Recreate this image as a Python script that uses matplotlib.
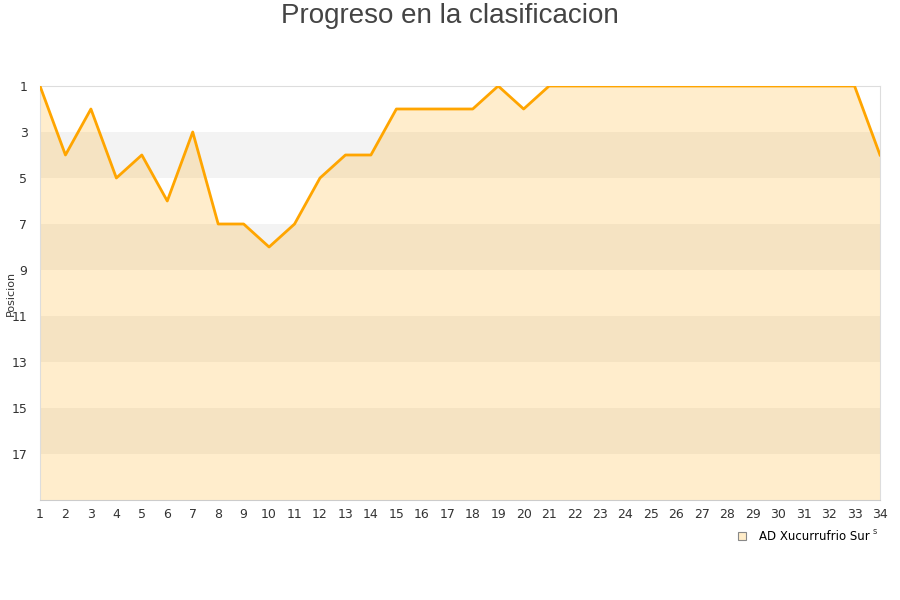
import matplotlib
matplotlib.use("Agg")
import matplotlib.pyplot as plt
from matplotlib.lines import Line2D

jornadas = list(range(1, 35))
posicion = [1, 4, 2, 5, 4, 6, 3, 7, 7, 8, 7, 5, 4, 4, 2, 2, 2, 2, 1, 2,
            1, 1, 1, 1, 1, 1, 1, 1, 1, 1, 1, 1, 1, 4]
yticks = [1, 3, 5, 7, 9, 11, 13, 15, 17]
team = "AD Xucurrufrio Sur"
title = "Progreso en la clasificacion"

fig = plt.figure(figsize=(9, 6), dpi=100)
ax = fig.add_axes([40/900, 1-500/600, 840/900, 414/600])

ymin, ymax = 1, 19
for b in range(3, 19, 4):
    ax.axhspan(b, b + 2, color="#f3f3f3", lw=0, zorder=0)

ax.fill_between(jornadas, posicion, ymax, color="#FFA500", alpha=0.2, lw=0, zorder=1)
ax.plot(jornadas, posicion, color="#FFA500", lw=2, zorder=3)

ax.set_xlim(1, 34)
ax.set_ylim(ymax, ymin)
ax.set_xticks(jornadas)
ax.set_yticks(yticks)
ax.tick_params(axis="both", length=0, labelsize=9, colors="#333333")
ax.tick_params(axis="x", pad=6)
ax.tick_params(axis="y", pad=9)
for s in ["top", "right", "left"]:
    ax.spines[s].set_color("#dddddd")
ax.spines["bottom"].set_color("#cccccc")
fig.text(11/900, 1-293/600, "Posicion", rotation=90, fontsize=8, color="#333333",
         ha="center", va="center")

fig.text(0.5, 1-16/600, title, ha="center", va="center", fontsize=20,
         color="#444444", family="Liberation Sans")

handle = Line2D([], [], marker="s", ls="none", markersize=6,
                markerfacecolor="#ffecc8", markeredgecolor="#888888", markeredgewidth=0.8)
fig.legend([handle], [team], loc="center", bbox_to_anchor=(800/900, 1-537/600),
           frameon=False, fontsize=8.5, handletextpad=0.5, borderaxespad=0)
fig.text(875/900, 1-532/600, "s", fontsize=6, color="#333333", ha="center", va="center")

fig.savefig("out.png", dpi=100)
